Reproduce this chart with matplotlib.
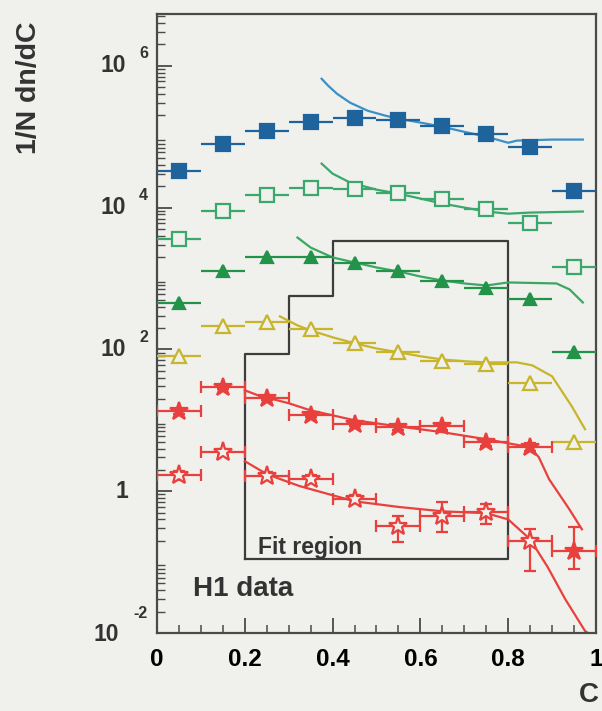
import numpy as np
import matplotlib as mp
mp.use('Agg')
import matplotlib.pyplot as plt
from matplotlib.ticker import FixedLocator, LogLocator, NullFormatter

plt.rcParams['font.family'] = ['Liberation Sans', 'DejaVu Sans']
plt.rcParams['font.weight'] = 'bold'

bg = '#f0f0ec'

# bin centres of the C distribution
c_bins = [0.05, 0.15, 0.25, 0.35, 0.45, 0.55, 0.65, 0.75, 0.85, 0.95]

# data points (scaled by powers of ten, as in the plot)
blue_sq = [3.3e4, 8.0e4, 1.22e5, 1.63e5, 1.85e5, 1.74e5, 1.43e5, 1.10e5, 7.2e4, 1.74e4]
green_sq = [3.66e3, 9.07e3, 1.52e4, 1.91e4, 1.85e4, 1.63e4, 1.30e4, 9.7e3, 6.15e3, 1.43e3]
green_tri = [444, 1255, 1980, 1980, 1680, 1255, 907, 746, 506, 91]
yellow_tri = [80, 211, 240, 191, 125, 91, 68, 61.5, 34, 4.9]
red_fstar = [13.4, 29.2, 20.4, 11.8, 8.8, 8.0, 8.2, 4.9, 4.2, 0.143]
red_fstar_lo = [12.4, 27.5, 19.2, 11.0, 8.2, 7.4, 7.4, 4.4, 3.7, 0.080]
red_fstar_hi = [14.4, 31.0, 21.6, 12.6, 9.4, 8.6, 9.0, 5.4, 4.8, 0.31]
red_ostar = [1.68, 3.54, 1.63, 1.48, 0.77, 0.32, 0.445, 0.506, 0.198]
red_ostar_lo = [1.45, 3.2, 1.45, 1.3, 0.68, 0.19, 0.265, 0.343, 0.075]
red_ostar_hi = [1.95, 3.9, 1.85, 1.68, 0.88, 0.445, 0.70, 0.656, 0.29]

# fitted curves
blue_fit_x = [0.375, 0.39, 0.41, 0.44, 0.48, 0.52, 0.55, 0.60, 0.65, 0.70, 0.75, 0.80, 0.82, 0.90, 0.97]
blue_fit_y = [6.56e5, 5.23e5, 4.03e5, 3.01e5, 2.32e5, 1.98e5, 1.79e5, 1.58e5, 1.38e5, 1.17e5, 1.0e5, 8.2e4, 8.8e4, 9.1e4, 9.1e4]
green_sq_fit_x = [0.375, 0.40, 0.44, 0.50, 0.55, 0.60, 0.65, 0.70, 0.75, 0.80, 0.85, 0.97]
green_sq_fit_y = [4.17e4, 3.01e4, 2.25e4, 1.79e4, 1.57e4, 1.34e4, 1.14e4, 1.0e4, 8.8e3, 8.2e3, 8.5e3, 8.8e3]
green_tri_fit_x = [0.32, 0.35, 0.40, 0.45, 0.50, 0.55, 0.60, 0.65, 0.70, 0.75, 0.80, 0.91, 0.94, 0.97]
green_tri_fit_y = [3780, 2730, 1980, 1680, 1430, 1255, 1067, 937, 851, 797, 879, 851, 700, 459]
yellow_fit_x = [0.28, 0.32, 0.35, 0.40, 0.45, 0.50, 0.55, 0.60, 0.65, 0.70, 0.75, 0.82, 0.855, 0.90, 0.945, 0.975]
yellow_fit_y = [292, 218, 185, 148, 122, 103, 91, 80, 72, 68, 65.6, 65.6, 59.5, 41.7, 15.7, 7.5]
red_f_fit_x = [0.20, 0.23, 0.30, 0.35, 0.45, 0.55, 0.65, 0.75, 0.80, 0.85, 0.87, 0.893, 0.939, 0.968]
red_f_fit_y = [26.5, 22.5, 17.4, 13.8, 10.0, 8.2, 6.8, 5.4, 4.74, 4.17, 3.0, 1.48, 0.56, 0.29]
red_o_fit_x = [0.20, 0.25, 0.30, 0.325, 0.45, 0.55, 0.65, 0.75, 0.80, 0.85, 0.89, 0.93, 0.975, 1.0]
red_o_fit_y = [2.65, 1.74, 1.34, 1.18, 0.72, 0.60, 0.52, 0.49, 0.40, 0.21, 0.085, 0.030, 0.0107, 0.0083]

# fit region outline
fit_x = [0.2, 0.2, 0.3, 0.3, 0.4, 0.4, 0.8, 0.8, 0.2]
fit_y = [0.11, 85, 85, 575, 575, 3330, 3330, 0.11, 0.11]

c_blue, c_blue_l = '#1f639c', '#3c90c4'
c_gsq = '#3aa86c'
c_gtri, c_gtri_l = '#24934a', '#3aa860'
c_yel = '#c7b52c'
c_red = '#e8413d'

fig = plt.figure(figsize=(6.02, 7.11), dpi=100, facecolor=bg)
ax = fig.add_axes([0.2608, 0.1097, 0.7292, 0.8706], facecolor=bg)
ax.set_yscale('log')
ax.set_xlim(0, 1)
ax.set_ylim(1e-2, 10 ** 6.73)

ax.plot(fit_x, fit_y, '-', color='#3c3c3c', lw=1.6, zorder=1)

ax.plot(blue_fit_x, blue_fit_y, '-', color=c_blue_l, lw=1.6, zorder=2)
ax.plot(green_sq_fit_x, green_sq_fit_y, '-', color=c_gsq, lw=1.6, zorder=2)
ax.plot(green_tri_fit_x, green_tri_fit_y, '-', color=c_gtri_l, lw=1.6, zorder=2)
ax.plot(yellow_fit_x, yellow_fit_y, '-', color=c_yel, lw=1.6, zorder=2)
ax.plot(red_f_fit_x, red_f_fit_y, '-', color=c_red, lw=1.6, zorder=2)
ax.plot(red_o_fit_x, red_o_fit_y, '-', color=c_red, lw=1.6, zorder=2)


def draw(x, y, color, marker, ms, filled, lo=None, hi=None):
    y = np.array(y)
    yerr = None
    if lo is not None:
        yerr = [y - np.array(lo), np.array(hi) - y]
    ax.errorbar(x, y, xerr=0.05, yerr=yerr, fmt='none', ecolor=color,
                elinewidth=1.6, capsize=4 if lo is not None else 0, capthick=1.6, zorder=3)
    ax.plot(x, y, marker, ls='none', ms=ms, mec=color, mew=1.6,
            mfc=color if filled else bg, zorder=4)


draw(c_bins, blue_sq, c_blue, 's', 9.5, True)
draw(c_bins, green_sq, c_gsq, 's', 10, False)
draw(c_bins, green_tri, c_gtri, '^', 9, True)
draw(c_bins, yellow_tri, c_yel, '^', 10, False)
draw(c_bins, red_fstar, c_red, '*', 13.5, True, red_fstar_lo, red_fstar_hi)
draw(c_bins[:9], red_ostar, c_red, '*', 14, False, red_ostar_lo, red_ostar_hi)

ax.text(0.23, 0.163, 'Fit region', fontsize=16.5, fontweight='bold', color='#333333',
        ha='left', va='center', zorder=5)
ax.text(0.082, 0.042, 'H1 data', fontsize=20, fontweight='bold', color='#333333',
        ha='left', va='center', zorder=5)

for s in ax.spines.values():
    s.set_color('#4a4a4a')
    s.set_linewidth(1.6)

ax.xaxis.set_major_locator(FixedLocator([0, 0.2, 0.4, 0.6, 0.8, 1.0]))
ax.xaxis.set_minor_locator(FixedLocator(np.arange(0, 1.001, 0.05)))
ax.set_xticklabels(['0', '0.2', '0.4', '0.6', '0.8', '1'])
ax.tick_params(axis='x', which='major', direction='in', length=11, width=1.3,
               color='#4a4a4a', labelsize=17.5, pad=11, top=False)
ax.tick_params(axis='x', which='minor', direction='in', length=6, width=1.1,
               color='#4a4a4a', top=False)

ax.yaxis.set_major_locator(FixedLocator([1e-2, 1, 1e2, 1e4, 1e6]))
ax.yaxis.set_minor_locator(LogLocator(base=10, subs=np.arange(2, 10), numticks=30))
ax.yaxis.set_major_formatter(NullFormatter())
ax.yaxis.set_minor_formatter(NullFormatter())
ax.tick_params(axis='y', which='major', direction='in', length=11, width=1.3,
               color='#4a4a4a', right=False)
ax.tick_params(axis='y', which='minor', direction='in', length=6, width=1.0,
               color='#4a4a4a', right=False)

# y tick labels in the "10 ^n" style of the original
for val, exp in [(1e-2, '-2'), (1e2, '2'), (1e4, '4'), (1e6, '6')]:
    base_off = -(24 + 7 * len(exp)) * 0.72
    ax.annotate('10', xy=(0, val), xycoords=('axes fraction', 'data'),
                xytext=(base_off, -1 if exp == '-2' else 0), textcoords='offset points',
                ha='right', va='center', fontsize=16.5, fontweight='bold', color='#333333')
    ax.annotate(exp, xy=(0, val), xycoords=('axes fraction', 'data'),
                xytext=(-9 * 0.72, 14 if exp == '-2' else 8.6), textcoords='offset points',
                ha='right', va='center', fontsize=11.5, fontweight='bold', color='#333333')
ax.annotate('1', xy=(0, 1), xycoords=('axes fraction', 'data'),
            xytext=(-29 * 0.72, 0), textcoords='offset points',
            ha='right', va='center', fontsize=16.5, fontweight='bold', color='#333333')

fig.text(0.048, 0.876, '1/N dn/dC', rotation=90, fontsize=20.5, fontweight='bold',
         color='#333333', ha='center', va='center')
fig.text(0.979, 0.0225, 'C', fontsize=20, fontweight='bold', color='#333333',
         ha='center', va='center')

plt.savefig('out.png', dpi=100, facecolor=bg)
